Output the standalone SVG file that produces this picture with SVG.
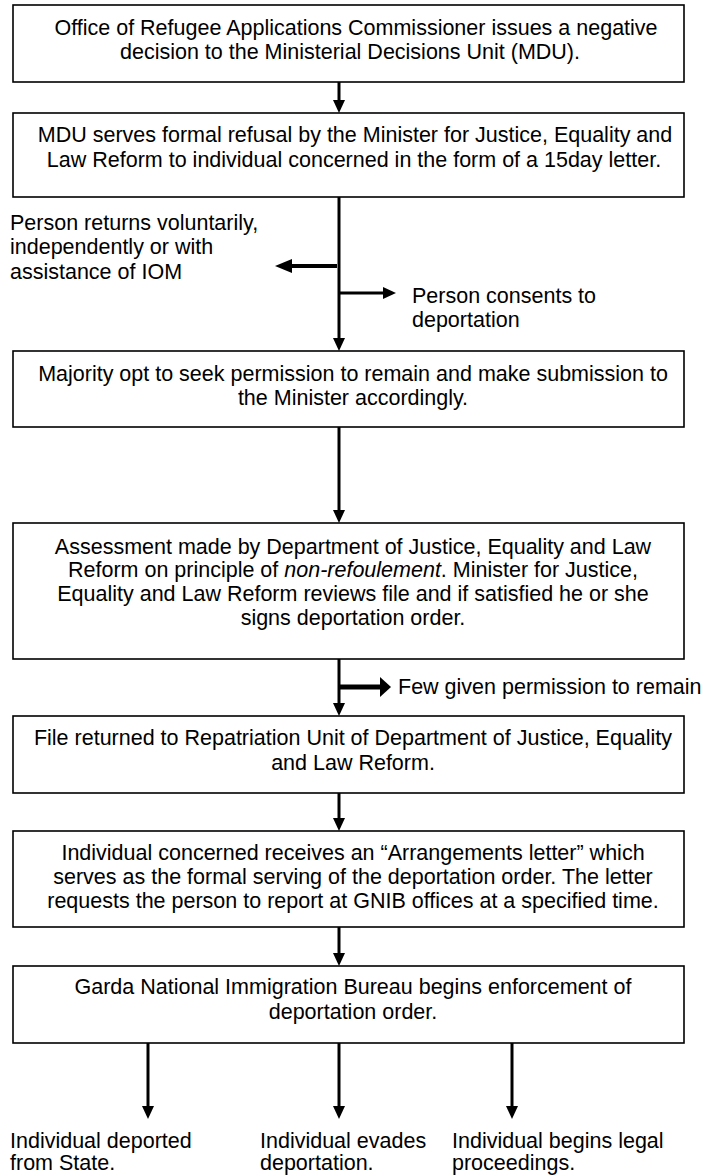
<svg xmlns="http://www.w3.org/2000/svg" width="706" height="1175" viewBox="0 0 706 1175">
<defs>
<style>
.box{fill:#fff;stroke:#000;stroke-width:1.6}
.t{font-family:"Liberation Sans",Arial,sans-serif;font-size:21.5px;fill:#000}
.c{text-anchor:middle}
.ln{stroke:#000;stroke-width:3;fill:none}
.hd{fill:#000}
</style>
</defs>
<rect width="706" height="1175" fill="#fff"/>
<g id="connectors">
<line class="ln" x1="339" y1="82" x2="339" y2="102"/><polygon class="hd" points="333,100 345,100 339,113"/>
<line class="ln" x1="339" y1="197" x2="339" y2="340"/><polygon class="hd" points="333,338 345,338 339,351"/>
<line x1="337" y1="266" x2="290" y2="266" stroke="#000" stroke-width="4"/><polygon class="hd" points="292,259 292,273 275,266"/>
<line class="ln" x1="339" y1="293" x2="385" y2="293"/><polygon class="hd" points="383,287 383,299 396,293"/>
<line class="ln" x1="339" y1="427" x2="339" y2="512"/><polygon class="hd" points="333,510 345,510 339,523"/>
<line class="ln" x1="339" y1="659" x2="339" y2="705"/><polygon class="hd" points="333,703 345,703 339,716"/>
<line x1="339" y1="687" x2="382" y2="687" stroke="#000" stroke-width="5"/><polygon class="hd" points="380,677 380,697 391,687"/>
<line class="ln" x1="339" y1="793" x2="339" y2="820"/><polygon class="hd" points="333,818 345,818 339,831"/>
<line class="ln" x1="339" y1="927" x2="339" y2="955"/><polygon class="hd" points="333,953 345,953 339,966"/>
<line class="ln" x1="148" y1="1043" x2="148" y2="1108"/><polygon class="hd" points="142,1106 154,1106 148,1119"/>
<line class="ln" x1="339" y1="1043" x2="339" y2="1108"/><polygon class="hd" points="333,1106 345,1106 339,1119"/>
<line class="ln" x1="512" y1="1043" x2="512" y2="1108"/><polygon class="hd" points="506,1106 518,1106 512,1119"/>
</g>
<g id="n1"><rect class="box" x="13" y="5" width="671" height="77"/>
<text class="t c" x="356" y="35">Office of Refugee Applications Commissioner issues a negative</text>
<text class="t c" x="350" y="59">decision to the Ministerial Decisions Unit (MDU).</text></g>
<g id="n2"><rect class="box" x="13" y="113" width="671" height="84"/>
<text class="t c" x="355" y="142">MDU serves formal refusal by the Minister for Justice, Equality and</text>
<text class="t c" x="354" y="167">Law Reform to individual concerned in the form of a 15day letter.</text></g>
<g id="lbl-voluntary">
<text class="t" x="10" y="230">Person returns voluntarily,</text>
<text class="t" x="10" y="254">independently or with</text>
<text class="t" x="10" y="279">assistance of IOM</text></g>
<g id="lbl-consent">
<text class="t" x="412" y="303">Person consents to</text>
<text class="t" x="412" y="327">deportation</text></g>
<g id="n3"><rect class="box" x="13" y="351" width="671" height="76"/>
<text class="t c" x="353" y="381">Majority opt to seek permission to remain and make submission to</text>
<text class="t c" x="353" y="405">the Minister accordingly.</text></g>
<g id="n4"><rect class="box" x="13" y="523" width="671" height="136"/>
<text class="t c" x="353" y="554">Assessment made by Department of Justice, Equality and Law</text>
<text class="t c" x="353" y="577">Reform on principle of <tspan font-style="italic">non-refoulement</tspan>. Minister for Justice,</text>
<text class="t c" x="353" y="601">Equality and Law Reform reviews file and if satisfied he or she</text>
<text class="t c" x="353" y="625">signs deportation order.</text></g>
<g id="lbl-few"><text class="t" x="398" y="694">Few given permission to remain</text></g>
<g id="n5"><rect class="box" x="13" y="716" width="671" height="77"/>
<text class="t c" x="353" y="745">File returned to Repatriation Unit of Department of Justice, Equality</text>
<text class="t c" x="353" y="770">and Law Reform.</text></g>
<g id="n6"><rect class="box" x="13" y="831" width="671" height="96"/>
<text class="t c" x="353" y="860">Individual concerned receives an “Arrangements letter” which</text>
<text class="t c" x="353" y="884">serves as the formal serving of the deportation order. The letter</text>
<text class="t c" x="353" y="908">requests the person to report at GNIB offices at a specified time.</text></g>
<g id="n7"><rect class="box" x="13" y="966" width="671" height="77"/>
<text class="t c" x="353" y="994">Garda National Immigration Bureau begins enforcement of</text>
<text class="t c" x="353" y="1019">deportation order.</text></g>
<g id="lbl-deported"><text class="t" x="10" y="1148">Individual deported</text><text class="t" x="10" y="1170">from State.</text></g>
<g id="lbl-evades"><text class="t" x="260" y="1148">Individual evades</text><text class="t" x="260" y="1170">deportation.</text></g>
<g id="lbl-legal"><text class="t" x="452" y="1148">Individual begins legal</text><text class="t" x="452" y="1170">proceedings.</text></g>
</svg>
